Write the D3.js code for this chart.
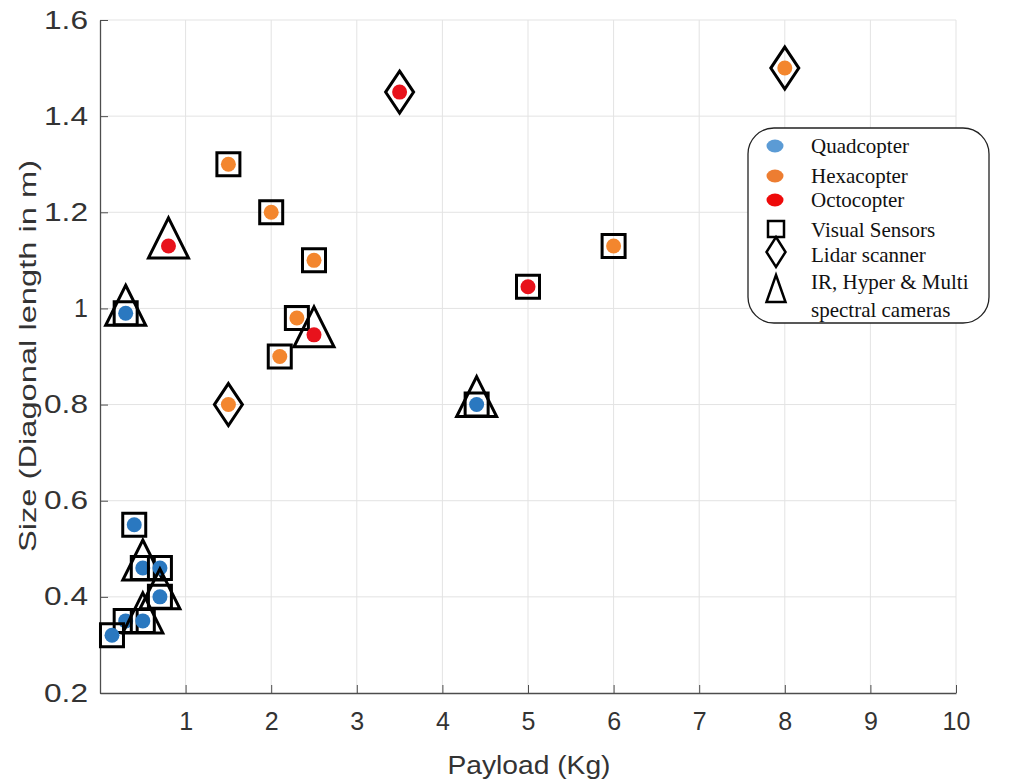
<!DOCTYPE html>
<html>
<head>
<meta charset="utf-8">
<script src="https://cdn.jsdelivr.net/npm/d3@7"></script>
<style>
  body { margin: 0; background: #fff; }
  svg { display: block; }
</style>
</head>
<body>
<div id="chart"></div>
<script>
// data
let payload = [0.3, 0.4, 0.5, 0.7, 0.7, 0.3, 0.5, 0.14, 4.4,
               1.5, 2.0, 2.5, 2.3, 2.1, 1.5, 6.0, 8.0,
               0.8, 3.5, 2.5, 5.0];
let sizeM   = [0.99, 0.55, 0.46, 0.46, 0.40, 0.35, 0.35, 0.32, 0.80,
               1.30, 1.20, 1.10, 0.98, 0.90, 0.80, 1.13, 1.50,
               1.13, 1.45, 0.945, 1.045];
let frame   = ['Quadcopter','Quadcopter','Quadcopter','Quadcopter','Quadcopter','Quadcopter','Quadcopter','Quadcopter','Quadcopter',
               'Hexacopter','Hexacopter','Hexacopter','Hexacopter','Hexacopter','Hexacopter','Hexacopter','Hexacopter',
               'Octocopter','Octocopter','Octocopter','Octocopter'];
// S = visual sensors, D = lidar, T = IR / hyper / multispectral
let sensors = ['ST','S','ST','S','ST','S','ST','S','ST',
               'S','S','S','S','S','D','S','D',
               'T','D','T','S'];

let frames = ['Quadcopter', 'Hexacopter', 'Octocopter'];
let sensorNames = ['Visual Sensors', 'Lidar scanner', 'IR, Hyper & Multi', 'spectral cameras'];
let xTicks = [1, 2, 3, 4, 5, 6, 7, 8, 9, 10];
let yTicks = [0.2, 0.4, 0.6, 0.8, 1.0, 1.2, 1.4, 1.6];
let yTickLabels = ['0.2', '0.4', '0.6', '0.8', '1', '1.2', '1.4', '1.6'];

let colors = {Quadcopter: '#2a78c0', Hexacopter: '#f3862e', Octocopter: '#e8121c'};
let legendColors = {Quadcopter: '#5b9bd5', Hexacopter: '#ed7d31', Octocopter: '#ee0a0a'};

let svg = d3.select('#chart')
  .append('svg')
    .attr('width', 1021)
    .attr('height', 780)
;

let x = d3.scaleLinear().domain([0, 10]).range([100, 956]);
let y = d3.scaleLinear().domain([0.2, 1.6]).range([693, 20]);

// grid
svg.append('g').selectAll('line').data(xTicks).enter()
  .append('line')
    .attr('x1', d => x(d)).attr('x2', d => x(d))
    .attr('y1', y(0.2)).attr('y2', y(1.6))
    .attr('stroke', '#e3e3e3')
    .attr('stroke-width', 1)
;
svg.append('g').selectAll('line').data(yTicks.slice(1)).enter()
  .append('line')
    .attr('x1', x(0)).attr('x2', x(10))
    .attr('y1', d => y(d)).attr('y2', d => y(d))
    .attr('stroke', '#e3e3e3')
    .attr('stroke-width', 1)
;

// axes
let xAxis = d3.axisBottom(x).tickValues(xTicks).tickSizeInner(-8).tickSizeOuter(0).tickPadding(19)
  .tickFormat(d => String(d));
let yAxis = d3.axisLeft(y).tickValues(yTicks).tickSizeInner(-8).tickSizeOuter(0).tickPadding(12)
  .tickFormat((d, i) => yTickLabels[i]);

let gx = svg.append('g').attr('transform', 'translate(0,' + y(0.2) + ')').call(xAxis);
let gy = svg.append('g').attr('transform', 'translate(' + x(0) + ',0)').call(yAxis);

[gx, gy].forEach(function(g) {
  g.select('.domain').attr('stroke', '#4d4d4d').attr('stroke-width', 1.3);
  g.selectAll('.tick line').attr('stroke', '#4d4d4d').attr('stroke-width', 1);
  g.selectAll('.tick text')
    .attr('fill', '#333')
    .style('font-family', '"Liberation Sans", Arial, sans-serif')
    .style('font-size', '25px');
});
// the y labels in the picture are drawn wide
gy.selectAll('.tick text')
  .filter((d, i) => yTickLabels[i].length > 1)
    .attr('textLength', 44)
    .attr('lengthAdjust', 'spacingAndGlyphs')
;

svg.append('text')
  .text('Payload (Kg)')
  .attr('x', 529).attr('y', 774)
  .attr('text-anchor', 'middle')
  .attr('fill', '#333')
  .attr('textLength', 163)
  .attr('lengthAdjust', 'spacingAndGlyphs')
  .style('font-family', '"Liberation Sans", Arial, sans-serif')
  .style('font-size', '26px')
;
svg.append('text')
  .text('Size (Diagonal length in m)')
  .attr('transform', 'translate(36,356) rotate(-90)')
  .attr('text-anchor', 'middle')
  .attr('fill', '#333')
  .attr('textLength', 392)
  .attr('lengthAdjust', 'spacingAndGlyphs')
  .style('font-family', '"Liberation Sans", Arial, sans-serif')
  .style('font-size', '24px')
;

// marker shapes
function squarePath(s) {
  return 'M' + (-s) + ',' + (-s) + 'H' + s + 'V' + s + 'H' + (-s) + 'Z';
}
function diamondPath(w, h) {
  return 'M0,' + (-h) + 'L' + w + ',0L0,' + h + 'L' + (-w) + ',0Z';
}
function trianglePath(w, top, bottom) {
  return 'M0,' + (-top) + 'L' + w + ',' + bottom + 'L' + (-w) + ',' + bottom + 'Z';
}

let points = payload.map(function(p, i) {
  return {x: p, y: sizeM[i], frame: frame[i], sensors: sensors[i]};
});

let pts = svg.selectAll('.pt').data(points)
  .enter()
    .append('g')
    .attr('class', 'pt')
    .attr('transform', d => 'translate(' + x(d.x) + ',' + y(d.y) + ')')
;

pts.append('circle')
    .attr('r', 7.5)
    .attr('fill', d => colors[d.frame])
;

pts.filter(d => d.sensors.indexOf('T') >= 0)
  .append('path')
    .attr('d', trianglePath(20, 28, 12))
    .attr('fill', 'none')
    .attr('stroke', '#000')
    .attr('stroke-width', 3)
    .attr('stroke-linejoin', 'miter')
;
pts.filter(d => d.sensors.indexOf('S') >= 0)
  .append('path')
    .attr('d', squarePath(11.5))
    .attr('fill', 'none')
    .attr('stroke', '#000')
    .attr('stroke-width', 3)
;
pts.filter(d => d.sensors.indexOf('D') >= 0)
  .append('path')
    .attr('d', diamondPath(14, 21))
    .attr('fill', 'none')
    .attr('stroke', '#000')
    .attr('stroke-width', 3)
;

// legend
let legend = svg.append('g');
legend.append('rect')
    .attr('x', 748).attr('y', 128)
    .attr('width', 241).attr('height', 195)
    .attr('rx', 26).attr('ry', 26)
    .attr('fill', '#fff')
    .attr('stroke', '#222')
    .attr('stroke-width', 1.3)
;
let legendFont = '"Liberation Serif", "Times New Roman", serif';
let frameY = [146, 176, 200];
frames.forEach(function(f, i) {
  legend.append('ellipse')
      .attr('cx', 775).attr('cy', frameY[i])
      .attr('rx', 8.5).attr('ry', 6.5)
      .attr('fill', legendColors[f]);
  legend.append('text')
      .text(f)
      .attr('x', 811).attr('y', frameY[i] + 7)
      .style('font-family', legendFont)
      .style('font-size', '21px')
      .attr('fill', '#111');
});
legend.append('path')
    .attr('transform', 'translate(776,229)')
    .attr('d', squarePath(8))
    .attr('fill', 'none').attr('stroke', '#000').attr('stroke-width', 2.5);
legend.append('path')
    .attr('transform', 'translate(776,252)')
    .attr('d', diamondPath(9.5, 15))
    .attr('fill', 'none').attr('stroke', '#000').attr('stroke-width', 2.5);
legend.append('path')
    .attr('transform', 'translate(776,293)')
    .attr('d', trianglePath(9.5, 18, 9))
    .attr('fill', 'none').attr('stroke', '#000').attr('stroke-width', 2.5);

let sensorY = [237, 262, 289, 317];
sensorNames.forEach(function(s, i) {
  legend.append('text')
      .text(s)
      .attr('x', 811).attr('y', sensorY[i])
      .style('font-family', legendFont)
      .style('font-size', '21px')
      .attr('fill', '#111');
});
</script>
</body>
</html>
